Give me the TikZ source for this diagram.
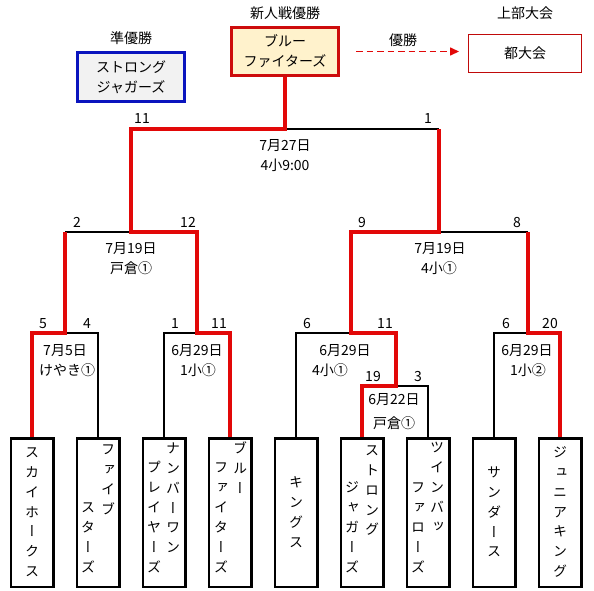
\documentclass[tikz,border=0pt]{standalone}
\usepackage{fontspec}
\setmainfont{Noto Sans CJK JP}
\newfontfamily\vjp[RawFeature=+vert]{Noto Sans CJK JP}
\usetikzlibrary{arrows.meta}
\definecolor{rl}{RGB}{226,8,8}
\definecolor{champborder}{RGB}{205,12,12}
\definecolor{champfill}{RGB}{255,242,204}
\definecolor{runnerborder}{RGB}{10,20,190}
\definecolor{runnerfill}{RGB}{242,242,242}
\definecolor{upborder}{RGB}{192,10,10}
\newcommand\vcolumnjp[4]{\foreach \c [count=\i] in {#4} {\node[ch] (#1-\i) at (#2,{#3+19.9*(\i-1)}) {\c};}}
\begin{document}
\begin{tikzpicture}[x=1pt,y=-1pt,
  lbl/.style={font=\fontsize{14}{20}\selectfont, inner sep=0pt, text height=12.3pt, text depth=1.7pt},
  ch/.style={font=\vjp\fontsize{14}{16}\selectfont, inner sep=0pt, text height=12.3pt, text depth=1.7pt},
  team/.style={draw=black, line width=2.5pt, minimum width=42.5pt, minimum height=148.5pt, inner sep=0pt},
  blk/.style={draw=black, line width=2pt},
  winline/.style={draw=rl, line width=3.2pt, line join=miter},
  topbox/.style={align=center, font=\fontsize{14}{20}\selectfont, inner sep=0pt}
]
\useasboundingbox (0,0) rectangle (594,590);

% top boxes
\node[lbl] (champlbl) at (285,13) {新人戦優勝};
\node[topbox, draw=champborder, fill=champfill, line width=3pt, minimum width=107pt, minimum height=48pt] (champ) at (285,51.5) {ブルー\\ファイターズ};
\node[lbl] (runnerlbl) at (131,38) {準優勝};
\node[topbox, draw=runnerborder, fill=runnerfill, line width=3pt, minimum width=107pt, minimum height=49pt] (runner) at (131,77) {ストロング\\ジャガーズ};
\node[lbl] (uplbl) at (525,13) {上部大会};
\node[topbox, draw=upborder, line width=1.4pt, minimum width=112.5pt, minimum height=37.5pt] (upper) at (525,53.5) {都大会};
\node[lbl] (winlbl) at (403,40) {優勝};
\draw[rl, line width=1.4pt, dash pattern=on 6.5pt off 4pt, -{Triangle[length=9pt,width=8pt]}, shorten <=16pt, shorten >=9pt] (champ.east) -- (champ.east -| upper.west);

% team boxes
\node[team] (t1) at (32,512.5) {};
\node[team] (t2) at (98,512.5) {};
\node[team] (t3) at (164,512.5) {};
\node[team] (t4) at (230,512.5) {};
\node[team] (t5) at (296,512.5) {};
\node[team] (t6) at (362,512.5) {};
\node[team] (t7) at (428,512.5) {};
\node[team] (t8) at (494,512.5) {};
\node[team] (t9) at (560,512.5) {};

\vcolumnjp{t1c}{32}{452}{ス,カ,イ,ホ,ー,ク,ス}
\vcolumnjp{t2r}{108}{449}{フ,ァ,イ,ブ}
\vcolumnjp{t2l}{88}{507.3}{ス,タ,ー,ズ}
\vcolumnjp{t3r}{173}{448}{ナ,ン,バ,ー,ワ,ン}
\vcolumnjp{t3l}{154}{467.5}{プ,レ,イ,ヤ,ー,ズ}
\vcolumnjp{t4r}{240}{448}{ブ,ル,ー}
\vcolumnjp{t4l}{221}{467.5}{フ,ァ,イ,タ,ー,ズ}
\vcolumnjp{t5c}{296}{482}{キ,ン,グ,ス}
\vcolumnjp{t6r}{372}{450}{ス,ト,ロ,ン,グ}
\vcolumnjp{t6l}{352}{487.4}{ジ,ャ,ガ,ー,ズ}
\vcolumnjp{t7r}{437}{447}{ツ,イ,ン,バ,ッ}
\vcolumnjp{t7l}{418}{487.4}{フ,ァ,ロ,ー,ズ}
\vcolumnjp{t8c}{494}{472}{サ,ン,ダ,ー,ス}
\vcolumnjp{t9c}{560}{452}{ジ,ュ,ニ,ア,キ,ン,グ}

% junctions
\coordinate (j1) at (65,333);
\coordinate (j2) at (197,333);
\coordinate (j3) at (351,333);
\coordinate (j3s) at (396,386);
\coordinate (j4) at (528,333);
\coordinate (k1) at (131,232);
\coordinate (k2) at (439,232);
\coordinate (f) at (285,129);

% black (losing) lines
\draw[blk] (t2.north) |- (j1);
\draw[blk] (t3.north) |- (j2);
\draw[blk] (t5.north) |- (j3);
\draw[blk] (t7.north) |- (j3s);
\draw[blk] (t8.north) |- (j4);
\draw[blk] (k1) -- (k1 -| j1);
\draw[blk] (k2) -- (k2 -| j4);
\draw[blk] (f) -- (f -| k2);

% red (winning) lines
\draw[winline] (t1.north) |- (j1) -- (j1 |- k1);
\draw[winline] (t4.north) |- (j2) |- (k1) |- (f) -- (champ.south);
\draw[winline] (t6.north) |- (j3s) |- (j3) |- (k2) -- (k2 |- f);
\draw[winline] (t9.north) |- (j4) -- (j4 |- k2);

% scores
\node[lbl] (sf1) at (142,118) {11};
\node[lbl] (sf2) at (428,118) {1};
\node[lbl] (sa1) at (77,222) {2};
\node[lbl] (sa2) at (188,222) {12};
\node[lbl] (sb1) at (362,222) {9};
\node[lbl] (sb2) at (517,222) {8};
\node[lbl] (s11) at (43,323) {5};
\node[lbl] (s12) at (87,323) {4};
\node[lbl] (s21) at (175,323) {1};
\node[lbl] (s22) at (219,323) {11};
\node[lbl] (s31) at (307,323) {6};
\node[lbl] (s32) at (385,323) {11};
\node[lbl] (s41) at (506,323) {6};
\node[lbl] (s42) at (550,323) {20};
\node[lbl] (s51) at (373,376) {19};
\node[lbl] (s52) at (418,376) {3};

% dates / venues
\node[lbl] (df1) at (285,145) {7月27日};
\node[lbl] (df2) at (285,165) {4小9:00};
\node[lbl] (da1) at (131,248) {7月19日};
\node[lbl] (da2) at (131,268) {戸倉①};
\node[lbl] (db1) at (440,248) {7月19日};
\node[lbl] (db2) at (439,268) {4小①};
\node[lbl] (d11) at (65,350) {7月5日};
\node[lbl] (d12) at (67,370) {けやき①};
\node[lbl] (d21) at (197,350) {6月29日};
\node[lbl] (d22) at (198,370) {1小①};
\node[lbl] (d31) at (345,350) {6月29日};
\node[lbl] (d32) at (330,370) {4小①};
\node[lbl] (d41) at (527,350) {6月29日};
\node[lbl] (d42) at (528,370) {1小②};
\node[lbl] (d51) at (394,399) {6月22日};
\node[lbl] (d52) at (394,423) {戸倉①};
\end{tikzpicture}
\end{document}
